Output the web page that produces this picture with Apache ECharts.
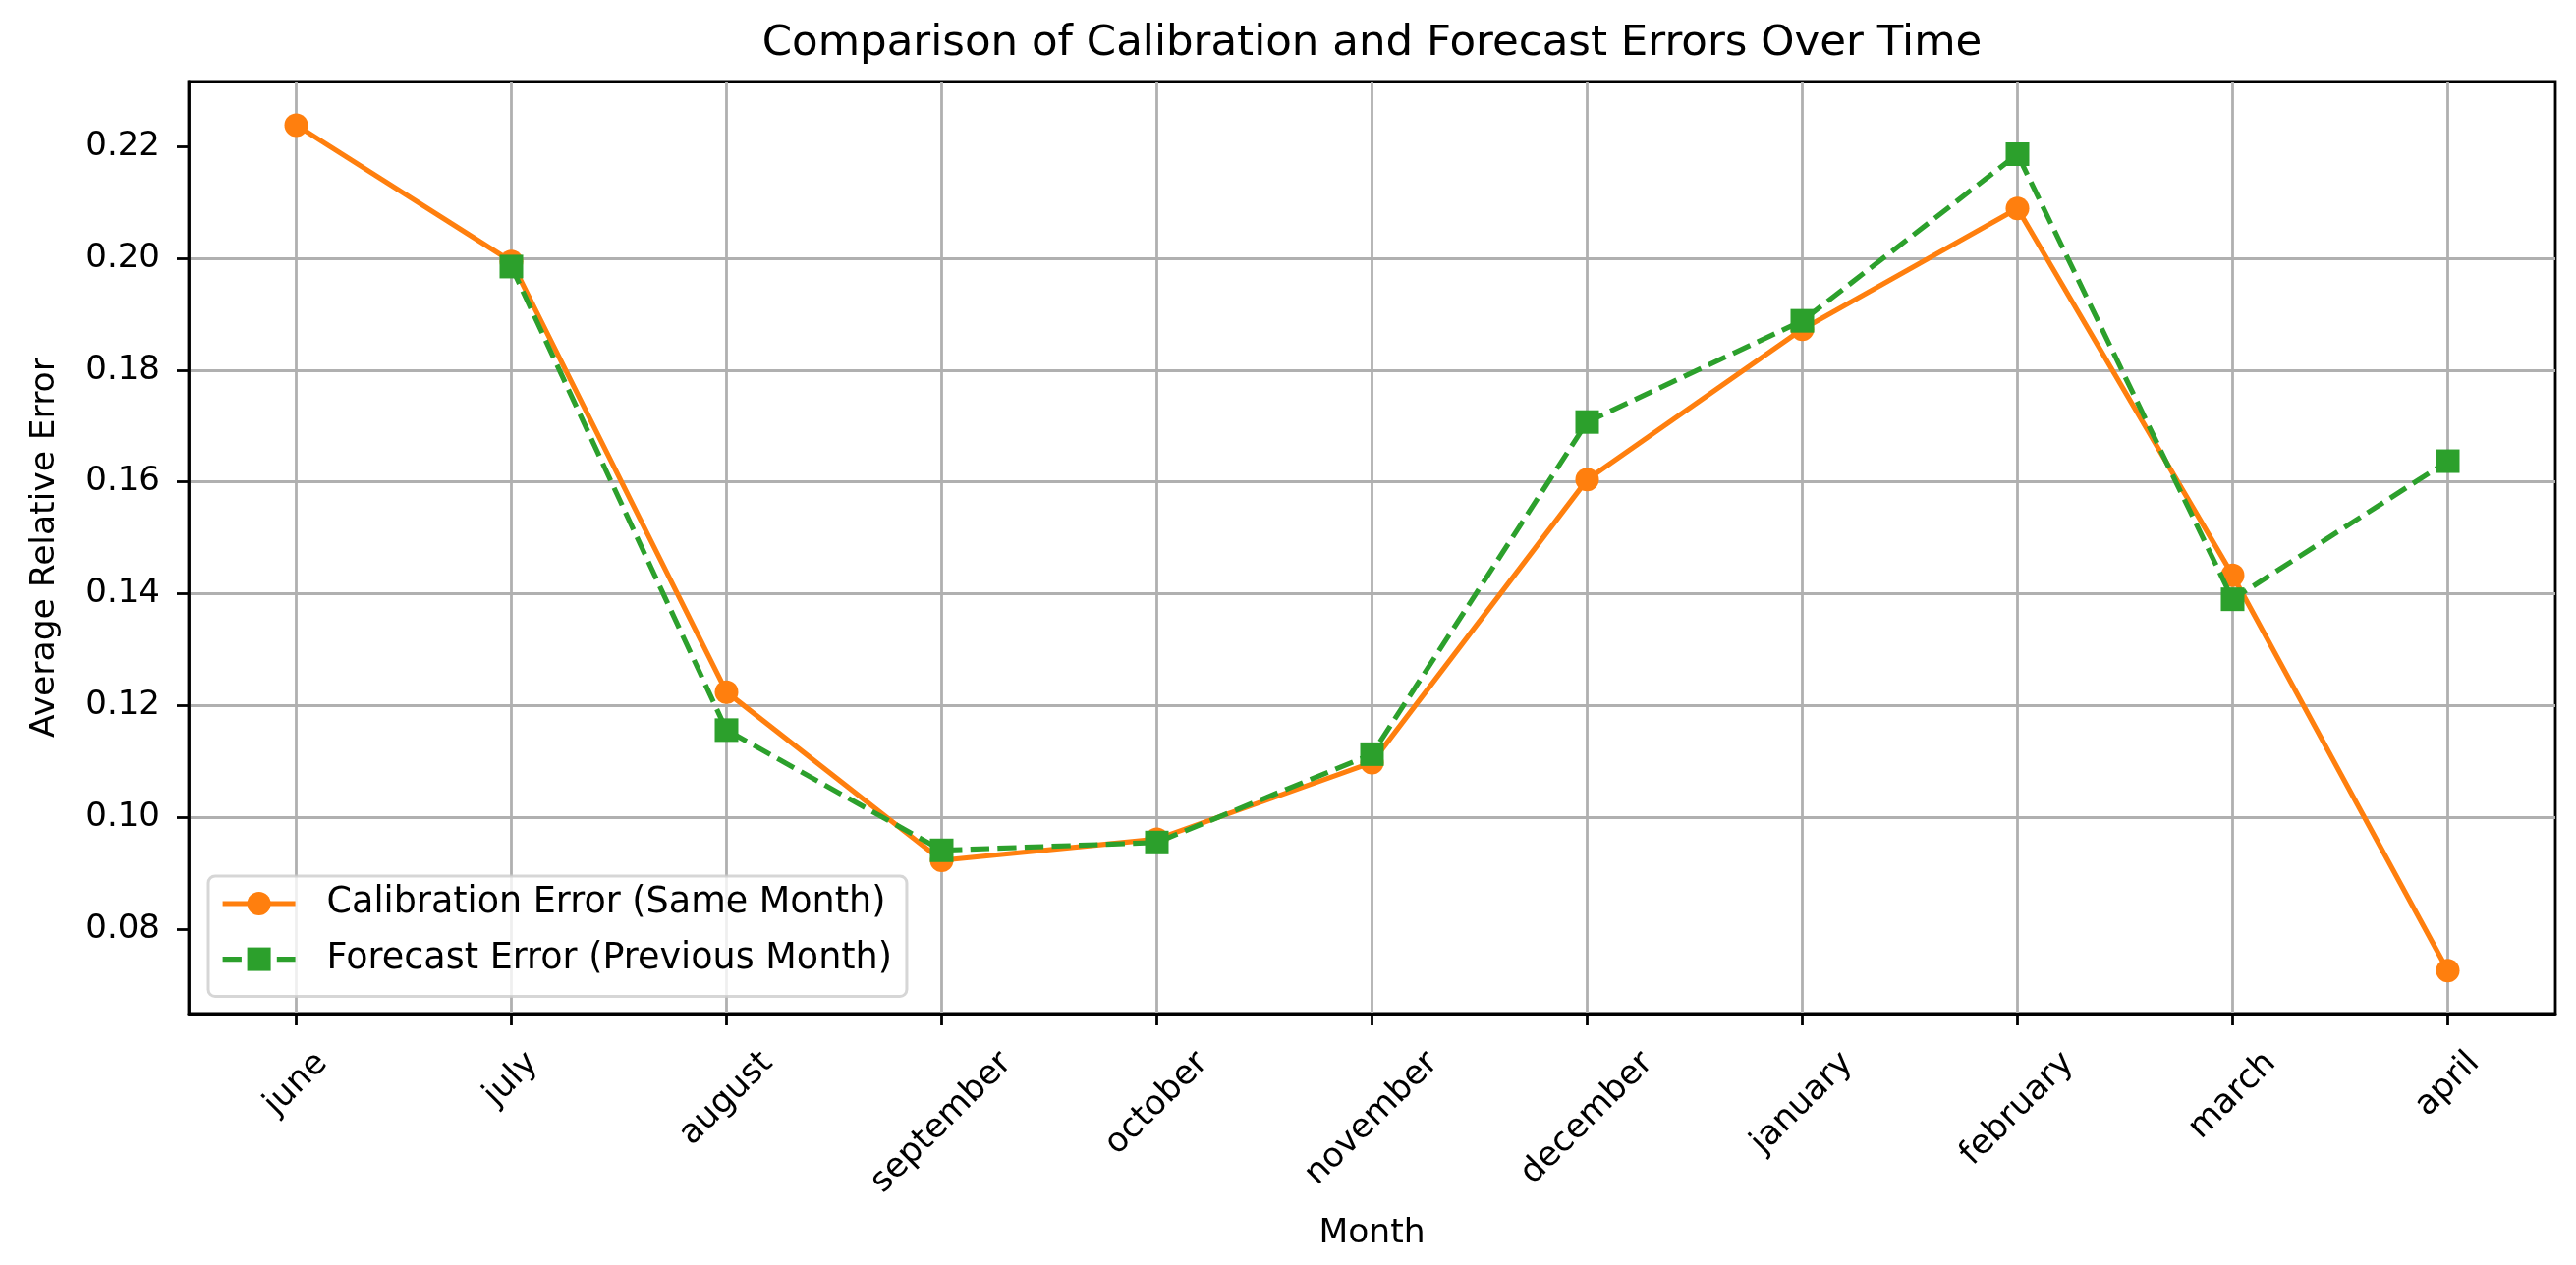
<!DOCTYPE html>
<html>
<head>
<meta charset="utf-8">
<script src="https://cdn.jsdelivr.net/npm/echarts@6/dist/echarts.min.js"></script>
<style>
html,body{margin:0;padding:0;background:#fff;}
#chart{width:2622px;height:1288px;}
</style>
</head>
<body>
<div id="chart"></div>
<script>
// ---- data ----
const months = ['june','july','august','september','october','november','december','january','february','march','april'];
const calibrationError = [0.2238, 0.1994, 0.1224, 0.0923, 0.0961, 0.1098, 0.1604, 0.1873, 0.2089, 0.1433, 0.0726];
const forecastError = [null, 0.1985, 0.1156, 0.0941, 0.0955, 0.1113, 0.1707, 0.1888, 0.2186, 0.1390, 0.1637];
const yTicks = [0.08, 0.10, 0.12, 0.14, 0.16, 0.18, 0.20, 0.22];
const yMin = 0.0649, yMax = 0.2316;

const titleText = 'Comparison of Calibration and Forecast Errors Over Time';
const xName = 'Month';
const yName = 'Average Relative Error';
const seriesNames = ['Calibration Error (Same Month)', 'Forecast Error (Previous Month)'];

// ---- styling ----
const FONT = '"DejaVu Sans", sans-serif';
const FS = 34.5;
const LH = 40;
const ORANGE = '#ff7f0e', GREEN = '#2ca02c';
const GRID = {left: 192, right: 21, top: 83, bottom: 256};

// matplotlib-like rotated labels (bbox centred under tick, bbox top fixed):
// ECharts anchors the end of a 45deg label at the tick; shift along the text
// with right padding and across it with a leading empty line of chosen height.
const ctx = document.createElement('canvas').getContext('2d');
ctx.font = FS + 'px "DejaVu Sans"';
const LABEL_MARGIN = -40;
const LABEL_TOP = 31;   // rotated label bbox top below the axis line
const MPL_H = 40;       // text box height used by the rotated bbox
const xData = months.map(m => {
  const w = ctx.measureText(m).width;
  const Dy = LABEL_TOP - LABEL_MARGIN + 0.35355 * (w + MPL_H);
  const a = 0.70711 * Dy;
  const pr = Math.max(0, a - w / 2);
  return {value: m, textStyle: {lineHeight: 2 * a, padding: [0, pr, 0, 0]}};
});

const chart = echarts.init(document.getElementById('chart'), null, {renderer: 'canvas'});
chart.setOption({
  animation: false,
  backgroundColor: '#fff',
  textStyle: {fontFamily: FONT},
  title: {
    text: titleText,
    left: GRID.left + (2622 - GRID.left - GRID.right) / 2,
    textAlign: 'center',
    top: 20,
    padding: 0,
    textStyle: {fontFamily: FONT, fontSize: 43.5, fontWeight: 'normal', color: '#000', lineHeight: 50}
  },
  grid: Object.assign({
    show: true, borderColor: '#000', borderWidth: 2.8, backgroundColor: '#fff',
    containLabel: false, outerBoundsMode: 'none'
  }, GRID),
  legend: {
    orient: 'vertical',
    left: 212, top: 892,
    padding: [8, 15, 18, 12],
    itemWidth: 74, itemHeight: 30, itemGap: 16.6,
    backgroundColor: 'rgba(255,255,255,0.8)',
    borderColor: 'rgba(204,204,204,0.8)', borderWidth: 3, borderRadius: 7,
    lineStyle: {width: 'inherit'},
    textStyle: {fontFamily: FONT, fontSize: 36.5, color: '#000', lineHeight: LH, padding: [0, 0, 0, 27]},
    data: seriesNames,
    z: 10
  },
  xAxis: {
    type: 'category',
    data: xData,
    boundaryGap: true,
    name: xName,
    nameLocation: 'middle',
    nameGap: 204,
    nameMoveOverlap: false,
    nameTextStyle: {fontFamily: FONT, fontSize: FS, color: '#000', lineHeight: LH},
    axisLine: {show: true, lineStyle: {color: '#000', width: 2.8}},
    axisTick: {show: true, alignWithLabel: true, length: 12, lineStyle: {color: '#000', width: 2.8}},
    axisLabel: {
      interval: 0, rotate: 45, margin: LABEL_MARGIN,
      fontFamily: FONT, fontSize: FS, color: '#000',
      formatter: v => '\n' + v
    },
    splitLine: {show: true, alignWithLabel: true, lineStyle: {color: '#b0b0b0', width: 2.8}}
  },
  yAxis: {
    type: 'value',
    min: yMin, max: yMax,
    splitNumber: 8,
    name: yName,
    nameLocation: 'middle',
    nameGap: 126,
    nameMoveOverlap: false,
    nameTextStyle: {fontFamily: FONT, fontSize: FS, color: '#000', lineHeight: LH},
    axisLine: {show: true, lineStyle: {color: '#000', width: 2.8}},
    axisTick: {show: true, length: 12, customValues: yTicks, lineStyle: {color: '#000', width: 2.8}},
    axisLabel: {
      margin: 29, customValues: yTicks,
      fontFamily: FONT, fontSize: 34, color: '#000',
      formatter: v => v.toFixed(2)
    },
    splitLine: {show: true, showMinLine: false, showMaxLine: false, lineStyle: {color: '#b0b0b0', width: 2.8}}
  },
  series: [
    {
      name: seriesNames[0], type: 'line', data: calibrationError,
      symbol: 'circle', symbolSize: 24, showSymbol: true,
      lineStyle: {color: ORANGE, width: 5.2, type: 'solid'},
      itemStyle: {color: ORANGE},
      z: 3
    },
    {
      name: seriesNames[1], type: 'line', data: forecastError,
      symbol: 'rect', symbolSize: 24, showSymbol: true, connectNulls: false,
      lineStyle: {color: GREEN, width: 5.2, type: [19.3, 8.3]},
      itemStyle: {color: GREEN},
      z: 4
    }
  ]
});
</script>
</body>
</html>
